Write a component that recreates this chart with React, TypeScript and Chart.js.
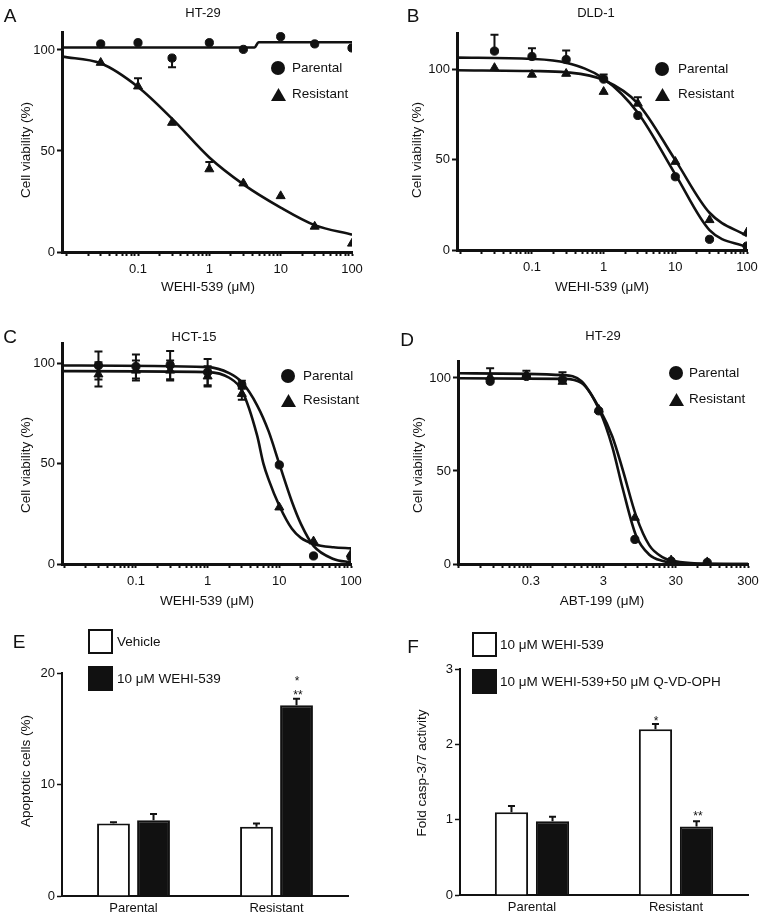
import React, { useEffect, useRef } from 'react';
import { Chart, registerables } from 'chart.js';
Chart.register(...registerables);

const W = 765;
const H = 919;
const FONT = '"Liberation Sans", Arial, Helvetica, sans-serif';
const INK = '#111';

// ---------- Panel A: HT-29, WEHI-539 ----------
const concA = [0.03, 0.1, 0.3, 1, 3, 10, 30, 100];
const aParental = [103, 103.6, 96, 103.6, 100.3, 106.6, 103, 101];
const aParentalErrDown = [0, 0, 4.5, 0, 0, 0, 0, 0];
const aResistant = [93.7, 82, 64, 41, 34, 27.7, 12.6, 4.2];
const aResistantErrUp = [0, 4, 0, 3.5, 0, 0, 0, 0];
const aFitParentalX = [0.0086, 4.3, 4.9, 100];
const aFitParentalY = [101.2, 101.2, 103.8, 103.8];
const aFitResistantX = [0.0086, 0.03, 0.1, 0.3, 1, 3, 10, 30, 100];
const aFitResistantY = [96.7, 93.4, 81.7, 66, 46.8, 33.5, 22, 13.3, 8.6];

// ---------- Panel B: DLD-1, WEHI-539 ----------
const concB = [0.03, 0.1, 0.3, 1, 3, 10, 30, 100];
const bParental = [110, 107, 105.3, 94.5, 74.4, 40.5, 5.9, 2.2];
const bParentalErrUp = [9, 4.5, 5, 2.5, 0, 0, 0, 0];
const bResistant = [100.7, 97, 97.5, 87.5, 81, 48.8, 16.6, 9.8];
const bResistantErrUp = [0, 0, 0, 0, 3.5, 0, 0, 0];
const bFitX = [0.009, 0.1, 0.3, 1, 3, 10, 30, 100];
const bFitParentalY = [106.4, 105.7, 103.5, 94.8, 75.9, 41.8, 11, 1.5];
const bFitResistantY = [99.4, 99, 98.3, 94, 81, 49.7, 20.6, 7.7];

// ---------- Panel C: HCT-15, WEHI-539 ----------
const concC = [0.03, 0.1, 0.3, 1, 3, 10, 30, 100];
const cParental = [98.8, 98.3, 99, 95.5, 89.2, 49.3, 4, 3.6];
const cParentalErr = [7, 6, 7, 6.5, 2, 0, 0, 0];
const cResistant = [94.4, 96.3, 96.3, 93.4, 84.7, 28.2, 11.3, 5];
const cResistantErr = [6, 5, 5, 5, 3, 0, 0, 0];
const cFitParentalX = [0.0093, 1, 2, 3, 4.9, 7.1, 10, 15, 20, 30, 57, 100];
const cFitParentalY = [98.8, 98, 95, 90.5, 79, 66, 49.8, 31, 20, 9, 2.5, 0.8];
const cFitResistantX = [0.0093, 1, 2, 3, 4.9, 6, 7.1, 10, 15, 20, 30, 57, 100];
const cFitResistantY = [96, 95.5, 92.7, 86.4, 64, 50, 42, 29, 17.5, 13, 10, 8.3, 7.8];

// ---------- Panel D: HT-29, ABT-199 ----------
const concD = [0.082, 0.26, 0.82, 2.6, 8.2, 26, 82];
const dParental = [98.2, 100.8, 99, 82.3, 13.2, 1.5, 0.8];
const dParentalErrUp = [7, 3, 4, 0, 0, 0, 0];
const dResistant = [100.5, 101.5, 98, 83, 24.9, 2, 1];
const dFitX = [0.0295, 0.85, 1.5, 2.7, 4, 5.5, 8.5, 13, 20, 30, 60, 300];
const dFitParentalY = [99.8, 99.5, 97.3, 82, 63, 41.4, 15.3, 5, 1.6, 0.5, 0.1, 0];
const dFitResistantY = [102.5, 101.5, 98.2, 83, 68.5, 51.4, 26, 10, 3.6, 1.4, 0.3, 0];

// ---------- Panel E: apoptotic cells ----------
const groups = ['Parental', 'Resistant'];
const eVehicle = [6.5, 6.2];
const eVehicleErr = [0.12, 0.3];
const eWehi = [6.8, 17.1];
const eWehiErr = [0.55, 0.6];

// ---------- Panel F: caspase 3/7 ----------
const fWehi = [1.1, 2.2];
const fWehiErr = [0.08, 0.07];
const fWehiQvd = [0.98, 0.91];
const fWehiQvdErr = [0.06, 0.07];

const tickFont = { family: FONT, size: 13 };

const errorBarPlugin = {
  id: 'errorBars',
  afterDatasetsDraw(chart: any) {
    const ctx = chart.ctx;
    const yScale = chart.scales.y;
    chart.data.datasets.forEach((ds: any, i: number) => {
      if (!ds.errUp && !ds.errDown) return;
      const meta = chart.getDatasetMeta(i);
      meta.data.forEach((el: any, j: number) => {
        const raw = ds.data[j];
        const v = typeof raw === 'number' ? raw : raw.y;
        const x = el.x;
        const yc = yScale.getPixelForValue(v);
        const cap = ds.capHalf ?? 4;
        ctx.save();
        ctx.strokeStyle = INK;
        ctx.lineWidth = ds.errWidth ?? 2;
        const draw = (e: number | undefined, dir: number) => {
          if (!e) return;
          const ye = yScale.getPixelForValue(v + dir * e);
          ctx.beginPath();
          ctx.moveTo(x, yc);
          ctx.lineTo(x, ye);
          ctx.moveTo(x - cap, ye);
          ctx.lineTo(x + cap, ye);
          ctx.stroke();
        };
        draw(ds.errUp ? ds.errUp[j] : 0, 1);
        draw(ds.errDown ? ds.errDown[j] : 0, -1);
        ctx.restore();
      });
    });
  },
};

type Rect = { l: number; r: number; t: number; b: number };
type PointSeries = { x: number[]; y: number[]; up?: number[]; down?: number[]; style: 'circle' | 'triangle' };
type FitSeries = { x: number[]; y: number[] };

function logTicks(base: number, min: number, max: number) {
  const out: number[] = [];
  for (let n = 0; n <= 5; n++) {
    for (let k = 1; k <= 9; k++) {
      const v = base * k * Math.pow(10, n);
      if (v >= min * 0.999 && v <= max * 1.001) out.push(v);
    }
  }
  return out;
}

const Y_W = 50;
const X_H = 40;

function curveConfig(p: {
  rect: Rect; xMin: number; xMax: number; yMax: number; tickBase: number;
  labelVals: number[]; labelText: string[]; yTicks: number[];
  points: PointSeries[]; fits: FitSeries[];
}) {
  const datasets: any[] = [];
  p.points.forEach((s) => {
    datasets.push({
      data: s.x.map((x, i) => ({ x, y: s.y[i] })),
      pointStyle: s.style,
      pointRadius: s.style === 'circle' ? 4.1 : 5.2,
      backgroundColor: INK,
      borderColor: INK,
      borderWidth: 1,
      showLine: false,
      errUp: s.up,
      errDown: s.down,
    });
  });
  p.fits.forEach((f) => {
    datasets.push({
      data: f.x.map((x, i) => ({ x, y: f.y[i] })),
      showLine: true,
      pointRadius: 0,
      borderColor: INK,
      borderWidth: 2.6,
      cubicInterpolationMode: 'monotone',
      fill: false,
    });
  });
  const xt = logTicks(p.tickBase, p.xMin, p.xMax);
  return {
    type: 'scatter',
    data: { datasets },
    plugins: [errorBarPlugin],
    options: {
      animation: false,
      responsive: false,
      maintainAspectRatio: false,
      events: [],
      layout: {
        padding: { left: p.rect.l - Y_W, right: W - p.rect.r, top: p.rect.t, bottom: H - p.rect.b - X_H },
      },
      plugins: { legend: { display: false }, title: { display: false }, tooltip: { enabled: false } },
      scales: {
        x: {
          type: 'logarithmic',
          min: p.xMin,
          max: p.xMax,
          afterBuildTicks: (s: any) => { s.ticks = xt.map((v) => ({ value: v })); },
          afterFit: (s: any) => { s.height = X_H; },
          ticks: {
            autoSkip: false, maxRotation: 0, minRotation: 0, padding: 6, font: tickFont, color: INK,
            callback: (v: any) => {
              const i = p.labelVals.findIndex((l) => Math.abs(Math.log10(l) - Math.log10(Number(v))) < 1e-6);
              return i >= 0 ? p.labelText[i] : '';
            },
          },
          grid: { drawOnChartArea: false, drawTicks: true, tickLength: 4, tickWidth: 2, tickColor: INK },
          border: { width: 3, color: INK },
        },
        y: {
          type: 'linear',
          min: 0,
          max: p.yMax,
          afterBuildTicks: (s: any) => { s.ticks = p.yTicks.map((v) => ({ value: v })); },
          afterFit: (s: any) => { s.width = Y_W; },
          ticks: { padding: 2, font: tickFont, color: INK },
          grid: { drawOnChartArea: false, drawTicks: true, tickLength: 5, tickWidth: 2, tickColor: INK },
          border: { width: 3, color: INK },
        },
      },
    },
  };
}

function barConfig(p: {
  rect: Rect; yMax: number; yTicks: number[];
  a: number[]; aErr: number[]; b: number[]; bErr: number[]; cat: number; bar: number;
}) {
  return {
    type: 'bar',
    data: {
      labels: groups,
      datasets: [
        { data: p.a, backgroundColor: '#fff', borderColor: INK, borderWidth: 2, errUp: p.aErr, capHalf: 3.5 },
        { data: p.b, backgroundColor: INK, borderColor: INK, borderWidth: 2, errUp: p.bErr, capHalf: 3.5 },
      ],
    },
    plugins: [errorBarPlugin],
    options: {
      animation: false,
      responsive: false,
      maintainAspectRatio: false,
      events: [],
      categoryPercentage: p.cat,
      barPercentage: p.bar,
      layout: {
        padding: { left: p.rect.l - Y_W, right: W - p.rect.r, top: p.rect.t, bottom: H - p.rect.b - 30 },
      },
      plugins: { legend: { display: false }, title: { display: false }, tooltip: { enabled: false } },
      scales: {
        x: {
          type: 'category',
          afterFit: (s: any) => { s.height = 30; },
          ticks: { padding: 5, font: tickFont, color: INK, maxRotation: 0 },
          grid: { display: true, drawOnChartArea: false, drawTicks: false },
          border: { width: 2, color: INK },
        },
        y: {
          type: 'linear',
          min: 0,
          max: p.yMax,
          afterBuildTicks: (s: any) => { s.ticks = p.yTicks.map((v) => ({ value: v })); },
          afterFit: (s: any) => { s.width = Y_W; },
          ticks: { padding: 2, font: tickFont, color: INK },
          grid: { drawOnChartArea: false, drawTicks: true, tickLength: 5, tickWidth: 1.5, tickColor: INK },
          border: { width: 2, color: INK },
        },
      },
    },
  };
}

const configs = [
  curveConfig({
    rect: { l: 62, r: 352, t: 32, b: 252 }, xMin: 0.0086, xMax: 100, yMax: 108.9, tickBase: 0.01,
    labelVals: [0.1, 1, 10, 100], labelText: ['0.1', '1', '10', '100'], yTicks: [0, 50, 100],
    points: [
      { x: concA, y: aParental, down: aParentalErrDown, style: 'circle' },
      { x: concA, y: aResistant, up: aResistantErrUp, style: 'triangle' },
    ],
    fits: [{ x: aFitParentalX, y: aFitParentalY }, { x: aFitResistantX, y: aFitResistantY }],
  }),
  curveConfig({
    rect: { l: 457, r: 747, t: 33, b: 250 }, xMin: 0.009, xMax: 100, yMax: 120, tickBase: 0.01,
    labelVals: [0.1, 1, 10, 100], labelText: ['0.1', '1', '10', '100'], yTicks: [0, 50, 100],
    points: [
      { x: concB, y: bParental, up: bParentalErrUp, style: 'circle' },
      { x: concB, y: bResistant, up: bResistantErrUp, style: 'triangle' },
    ],
    fits: [{ x: bFitX, y: bFitParentalY }, { x: bFitX, y: bFitResistantY }],
  }),
  curveConfig({
    rect: { l: 62, r: 351, t: 343, b: 564 }, xMin: 0.0093, xMax: 100, yMax: 110, tickBase: 0.01,
    labelVals: [0.1, 1, 10, 100], labelText: ['0.1', '1', '10', '100'], yTicks: [0, 50, 100],
    points: [
      { x: concC, y: cParental, up: cParentalErr, down: cParentalErr, style: 'circle' },
      { x: concC, y: cResistant, up: cResistantErr, down: cResistantErr, style: 'triangle' },
    ],
    fits: [{ x: cFitParentalX, y: cFitParentalY }, { x: cFitResistantX, y: cFitResistantY }],
  }),
  curveConfig({
    rect: { l: 458, r: 748, t: 361, b: 564 }, xMin: 0.0295, xMax: 300, yMax: 109.1, tickBase: 0.03,
    labelVals: [0.3, 3, 30, 300], labelText: ['0.3', '3', '30', '300'], yTicks: [0, 50, 100],
    points: [
      { x: concD, y: dParental, up: dParentalErrUp, style: 'circle' },
      { x: concD, y: dResistant, style: 'triangle' },
    ],
    fits: [{ x: dFitX, y: dFitParentalY }, { x: dFitX, y: dFitResistantY }],
  }),
  barConfig({
    rect: { l: 62, r: 348, t: 673, b: 896 }, yMax: 20, yTicks: [0, 10, 20],
    a: eVehicle, aErr: eVehicleErr, b: eWehi, bErr: eWehiErr, cat: 0.56, bar: 0.82,
  }),
  barConfig({
    rect: { l: 460, r: 748, t: 669, b: 895 }, yMax: 3, yTicks: [0, 1, 2, 3],
    a: fWehi, aErr: fWehiErr, b: fWehiQvd, bErr: fWehiQvdErr, cat: 0.57, bar: 0.81,
  }),
];

function ChartLayer({ config }: { config: any }) {
  const ref = useRef<HTMLCanvasElement>(null);
  useEffect(() => {
    const chart = new Chart(ref.current as HTMLCanvasElement, config);
    return () => chart.destroy();
  }, [config]);
  return (
    <canvas ref={ref} width={W} height={H}
      style={{ position: 'absolute', left: 0, top: 0, width: W, height: H }} />
  );
}

function T({ x, y, children, size = 13.5, anchor = 'middle', rotate = 0 }:
  { x: number; y: number; children: any; size?: number; anchor?: string; rotate?: number }) {
  const tx = anchor === 'start' ? '0' : '-50%';
  return (
    <div style={{
      position: 'absolute', left: x, top: y, transform: `translate(${tx}, -50%) rotate(${rotate}deg)`,
      fontFamily: FONT, fontSize: size, lineHeight: 1, whiteSpace: 'nowrap', color: INK,
    }}>{children}</div>
  );
}

function Dot({ x, y }: { x: number; y: number }) {
  const d = 14;
  return <div style={{ position: 'absolute', left: x - d / 2, top: y - d / 2, width: d, height: d, borderRadius: '50%', background: INK }} />;
}

function Tri({ x, y }: { x: number; y: number }) {
  const w = 15, h = 13;
  return (
    <svg style={{ position: 'absolute', left: x - w / 2, top: y - h / 2 }} width={w} height={h}>
      <polygon points={`${w / 2},0 ${w},${h} 0,${h}`} fill={INK} />
    </svg>
  );
}

function Box({ l, t, fill }: { l: number; t: number; fill: string }) {
  return <div style={{ position: 'absolute', left: l, top: t, width: 25, height: 25, boxSizing: 'border-box', border: `2.5px solid ${INK}`, background: fill }} />;
}

function Legend({ x, y1, y2, tx }: { x: number; y1: number; y2: number; tx: number }) {
  return (
    <>
      <Dot x={x} y={y1} />
      <T x={tx} y={y1} anchor="start">Parental</T>
      <Tri x={x} y={y2} />
      <T x={tx} y={y2} anchor="start">Resistant</T>
    </>
  );
}

export default function App() {
  return (
    <div style={{ position: 'absolute', left: 0, top: 0, width: W, height: H, background: '#fff', overflow: 'hidden' }}>
      {configs.map((c, i) => <ChartLayer key={i} config={c} />)}

      {/* panel letters */}
      <T x={10} y={15} size={19}>A</T>
      <T x={413} y={15} size={19}>B</T>
      <T x={10} y={336} size={19}>C</T>
      <T x={407} y={339} size={19}>D</T>
      <T x={19} y={641} size={19}>E</T>
      <T x={413} y={646} size={19}>F</T>

      {/* titles */}
      <T x={203} y={12} size={13}>HT-29</T>
      <T x={596} y={12} size={13}>DLD-1</T>
      <T x={194} y={336} size={13}>HCT-15</T>
      <T x={603} y={335} size={13}>HT-29</T>

      {/* axis titles */}
      <T x={208} y={287}>WEHI-539 (μM)</T>
      <T x={602} y={287}>WEHI-539 (μM)</T>
      <T x={207} y={601}>WEHI-539 (μM)</T>
      <T x={602} y={601}>ABT-199 (μM)</T>
      <T x={26} y={150} rotate={-90}>Cell viability (%)</T>
      <T x={417} y={150} rotate={-90}>Cell viability (%)</T>
      <T x={26} y={465} rotate={-90}>Cell viability (%)</T>
      <T x={418} y={465} rotate={-90}>Cell viability (%)</T>
      <T x={26} y={771} rotate={-90}>Apoptotic cells (%)</T>
      <T x={422} y={773} rotate={-90}>Fold casp-3/7 activity</T>

      {/* legends for curves */}
      <Legend x={278} y1={68} y2={94} tx={292} />
      <Legend x={662} y1={69} y2={94} tx={678} />
      <Legend x={288} y1={376} y2={400} tx={303} />
      <Legend x={676} y1={373} y2={399} tx={689} />

      {/* legend E */}
      <Box l={88} t={629} fill="#fff" />
      <T x={117} y={642} anchor="start">Vehicle</T>
      <Box l={88} t={666} fill={INK} />
      <T x={117} y={679} anchor="start">10 μM WEHI-539</T>

      {/* legend F */}
      <Box l={472} t={632} fill="#fff" />
      <T x={500} y={645} anchor="start">10 μM WEHI-539</T>
      <Box l={472} t={669} fill={INK} />
      <T x={500} y={682} anchor="start">10 μM WEHI-539+50 μM Q-VD-OPH</T>

      {/* significance marks */}
      <T x={297} y={681} size={12}>*</T>
      <T x={298} y={695} size={12}>**</T>
      <T x={656} y={721} size={12}>*</T>
      <T x={698} y={816} size={12}>**</T>
    </div>
  );
}
